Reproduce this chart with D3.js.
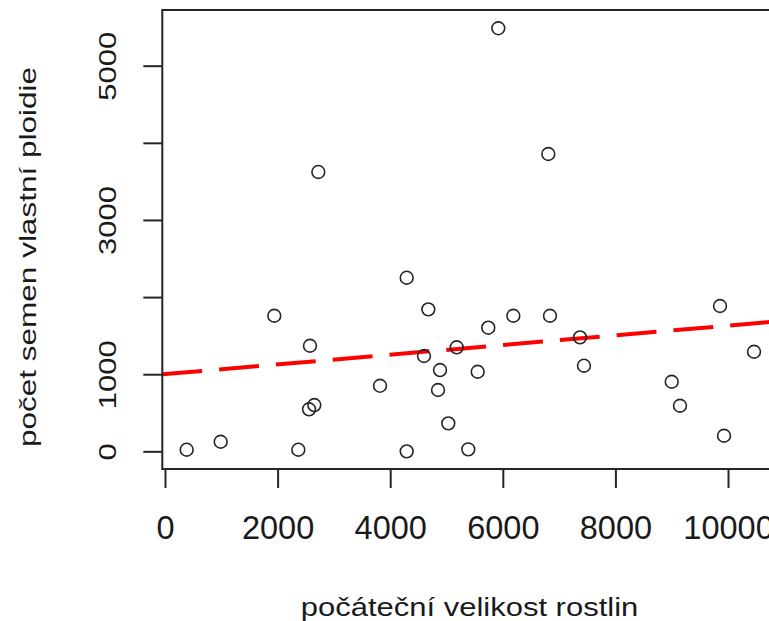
<!DOCTYPE html>
<html>
<head>
<meta charset="utf-8">
<script src="https://cdn.jsdelivr.net/npm/d3@7"></script>
<style>
  html, body { margin: 0; padding: 0; background: #fff; }
  svg { display: block; }
  text { font-family: "Liberation Sans", Arial, sans-serif; fill: #1a1a1a; }
</style>
</head>
<body>
<svg id="chart" width="769" height="621"></svg>
<script>
// ---- data ----
const plantSize = [385, 989, 1941, 2368, 2575, 2558, 2652, 2723, 3819, 4293,
                   4293, 4600, 4677, 4849, 4885, 5032, 5181, 5387, 5554, 5742,
                   5920, 6187, 6808, 6838, 7371, 7442, 9000, 9147, 9858, 9929, 10462];
const seedCount = [21, 124, 1758, 21, 1369, 545, 600, 3622, 850, 2251,
                   0, 1236, 1841, 795, 1054, 363, 1349, 26, 1032, 1603,
                   5485, 1758, 3855, 1758, 1478, 1110, 902, 591, 1884, 202, 1291];
const fitCoef = [1001, 0.0629];            // intercept, slope of the dashed line
const xLimits = [-48, 10870];
const yLimits = [-229, 5722];
const xTickValues = [0, 2000, 4000, 6000, 8000, 10000];
const yTickValues = [0, 1000, 2000, 3000, 4000, 5000];
const yTickLabels = ["0", "1000", "", "3000", "", "5000"];
const xTitle = "počáteční velikost rostlin";
const yTitle = "počet semen vlastní ploidie";

const svg = d3.select("#chart");
const x = d3.scaleLinear().domain(xLimits).range([162.3, 777]);
const y = d3.scaleLinear().domain(yLimits).range([469, 10]);

const ink = "#262626";

// clip for plot region
svg.append("clipPath").attr("id", "plotclip")
  .append("rect")
  .attr("x", x(xLimits[0])).attr("y", y(yLimits[1]))
  .attr("width", x(xLimits[1]) - x(xLimits[0]))
  .attr("height", y(yLimits[0]) - y(yLimits[1]));

// regression line
const lineData = xLimits.map(v => [v, fitCoef[0] + fitCoef[1] * v]);
svg.append("path")
  .attr("clip-path", "url(#plotclip)")
  .attr("d", d3.line().x(d => x(d[0])).y(d => y(d[1]))(lineData))
  .attr("fill", "none")
  .attr("stroke", "#ff0000")
  .attr("stroke-width", 4)
  .attr("stroke-dasharray", "40,17");

// points
svg.append("g").selectAll("circle")
  .data(plantSize.map((v, i) => [v, seedCount[i]]))
  .join("circle")
  .attr("cx", d => x(d[0]))
  .attr("cy", d => y(d[1]))
  .attr("r", 6.4)
  .attr("fill", "none")
  .attr("stroke", ink)
  .attr("stroke-width", 1.6);

// box
svg.append("rect")
  .attr("x", x(xLimits[0])).attr("y", y(yLimits[1]))
  .attr("width", x(xLimits[1]) - x(xLimits[0]))
  .attr("height", y(yLimits[0]) - y(yLimits[1]))
  .attr("fill", "none")
  .attr("stroke", ink)
  .attr("stroke-width", 2);

// x axis
const gx = svg.append("g")
  .attr("transform", `translate(0,${y(yLimits[0])})`)
  .call(d3.axisBottom(x).tickValues(xTickValues).tickSize(19).tickSizeOuter(0).tickFormat(d3.format("d")));
gx.select(".domain").remove();
gx.selectAll(".tick line").attr("stroke", ink).attr("stroke-width", 2);
gx.selectAll(".tick text")
  .attr("y", 70.3).attr("dy", null)
  .attr("font-size", 32.5)
  .attr("font-family", "Liberation Sans, Arial, sans-serif")
  .attr("fill", "#1a1a1a");

// y axis
const gy = svg.append("g")
  .attr("transform", `translate(${x(xLimits[0])},0)`)
  .call(d3.axisLeft(y).tickValues(yTickValues).tickSize(19).tickSizeOuter(0)
        .tickFormat((d, i) => yTickLabels[i]));
gy.select(".domain").remove();
gy.selectAll(".tick line").attr("stroke", ink).attr("stroke-width", 2);
gy.selectAll(".tick text")
  .attr("x", null).attr("dy", null)
  .attr("transform", `translate(${116 - x(xLimits[0])},0) rotate(-90) scale(1,0.77)`)
  .attr("text-anchor", "middle")
  .attr("font-size", 31)
  .attr("font-family", "Liberation Sans, Arial, sans-serif")
  .attr("fill", "#1a1a1a");

// titles
svg.append("text")
  .attr("transform", `translate(469.5,616) scale(1,0.83)`)
  .attr("text-anchor", "middle")
  .attr("font-size", 31)
  .text(xTitle);

svg.append("text")
  .attr("transform", `translate(36,257) rotate(-90) scale(1,0.77)`)
  .attr("text-anchor", "middle")
  .attr("font-size", 31.5)
  .text(yTitle);
</script>
</body>
</html>
